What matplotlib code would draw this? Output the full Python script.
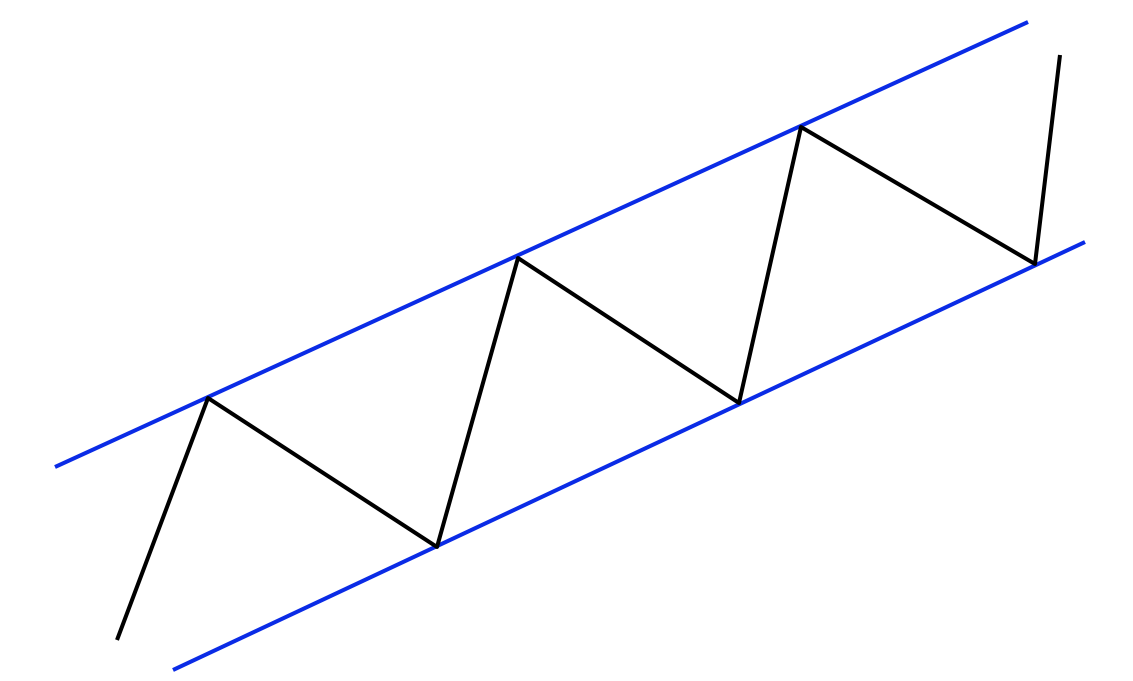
import matplotlib
matplotlib.use("Agg")
import matplotlib.pyplot as plt

# zigzag price path (x, y in picture units, y grows downward)
zig_x = [117, 208, 437, 518, 739, 801, 1035, 1060]
zig_y = [640, 398, 547, 258, 403, 127, 264, 55]

# channel lines
upper_x = [55, 1028]
upper_y = [467, 22]
lower_x = [173, 1085]
lower_y = [670, 242]

fig = plt.figure(figsize=(11.33, 6.81), dpi=100)
ax = fig.add_axes([0, 0, 1, 1])

ax.plot(upper_x, upper_y, color="#0a2be6", linewidth=2.9, solid_capstyle="butt")
ax.plot(lower_x, lower_y, color="#0a2be6", linewidth=2.9, solid_capstyle="butt")
ax.plot(zig_x, zig_y, color="black", linewidth=2.9, solid_capstyle="butt")

ax.set_xlim(0, 1133)
ax.set_ylim(681, 0)
ax.axis("off")

fig.savefig("out.png", dpi=100)
